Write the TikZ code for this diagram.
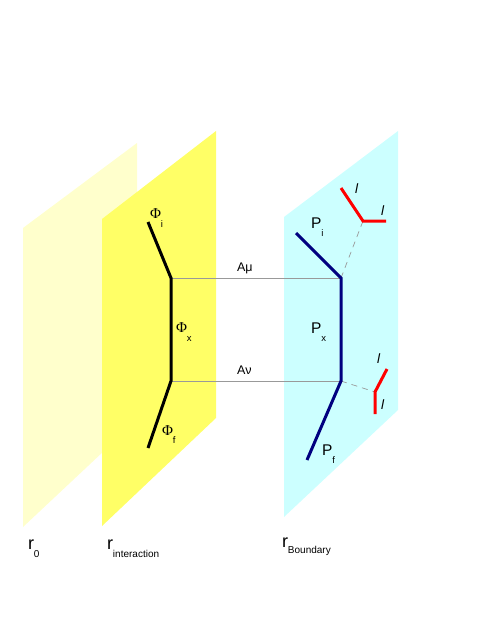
\documentclass[tikz,border=0pt]{standalone}
\usepackage{fontspec}
\setmainfont{Liberation Sans}
\newfontfamily\phifont{Liberation Serif}
\newcommand\sbx[2]{\raisebox{-#1pt}{\fontsize{9.5}{9.5}\selectfont #2}}
\newcommand\rsb[2]{\raisebox{-#1pt}{\fontsize{10}{10}\selectfont #2}}
\definecolor{paleyel}{HTML}{FFFFCC}
\definecolor{yel}{HTML}{FFFF66}
\definecolor{cyanpl}{HTML}{CCFFFF}
\definecolor{navy}{HTML}{000080}
\definecolor{grayln}{HTML}{999999}
\tikzset{
  lbl/.style={anchor=base west, inner sep=0pt, outer sep=0pt},
  philbl/.style={lbl, font=\fontsize{15}{15}\selectfont},
  plbl/.style={lbl, font=\fontsize{15.5}{15.5}\selectfont},
  albl/.style={lbl, font=\fontsize{12.5}{12.5}\selectfont},
  llbl/.style={lbl, font=\fontsize{13.5}{13.5}\selectfont\itshape},
  rlbl/.style={lbl, font=\fontsize{18}{18}\selectfont},
  philine/.style={line width=3pt, black, line join=miter},
  pline/.style={line width=3pt, navy, line join=miter},
  lline/.style={line width=3pt, red, line join=miter},
  conn/.style={line width=0.7pt, grayln},
  dconn/.style={line width=0.7pt, grayln, dash pattern=on 6pt off 5pt},
}
\begin{document}
\begin{tikzpicture}[x=1pt,y=-1pt]
\useasboundingbox (0,0) rectangle (491,635);
% planes
\fill[paleyel] (23,228) -- (137,143) -- (137,420) -- (23,527) -- cycle;
\fill[yel] (102,219) -- (216,131) -- (216,418) -- (102,526) -- cycle;
\fill[cyanpl] (284,217) -- (398,131) -- (398,410) -- (284,517) -- cycle;
% coordinates
\coordinate (phi1) at (148,222);
\coordinate (phi2) at (171,278);
\coordinate (phi3) at (171,381);
\coordinate (phi4) at (148,448);
\coordinate (p1) at (296,233);
\coordinate (p2) at (341,278);
\coordinate (p3) at (341,381);
\coordinate (p4) at (307,460);
\coordinate (la1) at (341,188);
\coordinate (la2) at (363,221);
\coordinate (la3) at (386,221);
\coordinate (lb1) at (387,369);
\coordinate (lb2) at (375,392);
\coordinate (lb3) at (375,414);
% connectors
\draw[conn] (phi2) -- (p2);
\draw[conn] (phi3) -- (p3);
\draw[dconn] (p2) -- (la2);
\draw[dconn] (p3) -- (lb2);
\draw[philine] (phi1) -- (phi2) -- (phi3) -- (phi4);
\draw[pline] (p1) -- (p2) -- (p3) -- (p4);
\draw[lline] (la1) -- (la2) -- (la3);
\draw[lline] (lb1) -- (lb2) -- (lb3);
% labels
\node[philbl] (phii) at (150,218) {{\phifont Φ}\sbx{9}{i}};
\node[philbl] (phix) at (176,332) {{\phifont Φ}\sbx{9}{x}};
\node[philbl] (phif) at (162,435) {{\phifont Φ}\sbx{8}{f}};
\node[plbl] (pi) at (311,228) {P\sbx{8}{i}};
\node[plbl] (px) at (311,333) {P\sbx{8}{x}};
\node[plbl] (pf) at (322,455) {P\sbx{8}{f}};
\node[albl] (amu) at (237,271) {Aμ};
\node[albl] (anu) at (237,374) {Aν};
\node[llbl] (l1) at (355,193) {l};
\node[llbl] (l2) at (381,215) {l};
\node[llbl] (l3) at (377,363) {l};
\node[llbl] (l4) at (381,409) {l};
\node[rlbl] (r0) at (28,549) {r\rsb{8}{0}};
\node[rlbl] (rint) at (107,549) {r\rsb{8}{interaction}};
\node[rlbl] (rbd) at (282,547) {r\rsb{6}{Boundary}};
\end{tikzpicture}
\end{document}
